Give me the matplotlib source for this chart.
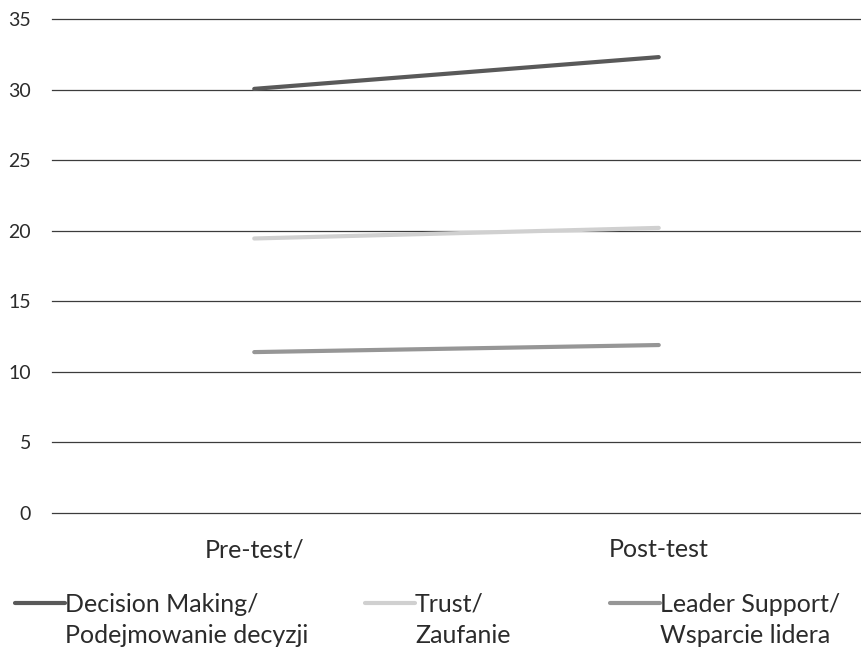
import numpy as np
import matplotlib.pyplot as plt

plt.rcParams['font.family'] = ['Lato', 'DejaVu Sans']

# data
stages = ['Pre-test/', 'Post-test']
decision_making = [30.05, 32.3]
trust = [19.45, 20.2]
leader_support = [11.4, 11.9]

series_labels = ['Decision Making/\nPodejmowanie decyzji',
                 'Trust/\nZaufanie',
                 'Leader Support/\nWsparcie lidera']
series_colors = ['#595959', '#d0d0d0', '#969696']

fig = plt.figure(figsize=(8.61, 6.55), dpi=100)
ax = fig.add_axes([52 / 861, (655 - 513) / 655, 1 - 52 / 861, (513 - 19) / 655])

x = np.arange(len(stages))
lines = []
for vals, lab, col in zip([decision_making, trust, leader_support], series_labels, series_colors):
    ln, = ax.plot(x, vals, color=col, lw=3, solid_capstyle='round', label=lab, zorder=3)
    lines.append(ln)

ax.set_xlim(-0.5, 1.5)
ax.set_ylim(0, 35)
ax.set_yticks(range(0, 36, 5))
ax.set_xticks(x)
ax.set_xticklabels(stages)
ax.yaxis.grid(True, color='#3c3c3c', lw=0.9)
ax.set_axisbelow(True)
for s in ax.spines.values():
    s.set_visible(False)
ax.tick_params(axis='y', length=0, pad=15, labelsize=14, labelcolor='#2b2b2b')
ax.tick_params(axis='x', length=0, pad=18, labelsize=18, labelcolor='#2b2b2b')
for gl in ax.get_ygridlines():
    gl.set_clip_on(False)

# one legend per series so the entries sit where they do in the original
legend_x = [15, 365, 610]
for ln, lx in zip(lines, legend_x):
    leg = fig.legend(handles=[ln], loc='center left', bbox_to_anchor=(lx / 861, 35 / 655),
                     frameon=False, fontsize=18, handlelength=2.0, handletextpad=0.0,
                     borderpad=0, borderaxespad=0, labelcolor='#2b2b2b')
    for t in leg.get_texts():
        t.set_linespacing(1.45)
    for h in leg.legend_handles:
        # put the handle level with the first line of the label
        h.set_ydata(np.asarray(h.get_ydata()) + 13.0)
        h.set_linewidth(3)

fig.savefig('out.png', dpi=100)
